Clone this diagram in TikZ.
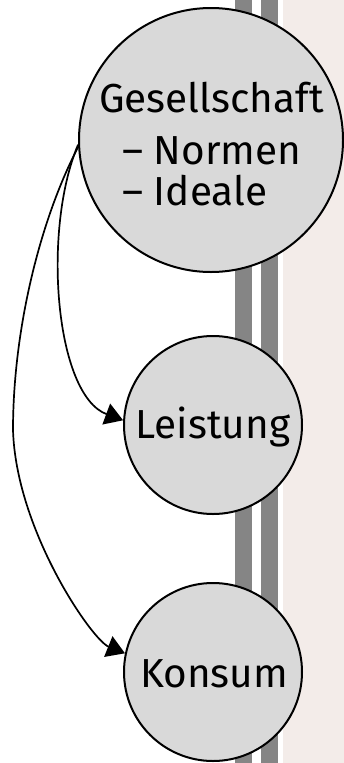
\documentclass[tikz,border=0pt]{standalone}
\usepackage{fontspec}
\setmainfont{Fira Sans}
\usetikzlibrary{arrows.meta}
\definecolor{nodefill}{HTML}{D9D9D9}
\definecolor{bargrey}{HTML}{858585}
\definecolor{paper}{HTML}{F3ECE9}
\tikzset{
  circ/.style={circle, draw=black, line width=2pt, fill=nodefill, inner sep=0pt},
  lbl/.style={inner sep=0pt, font=\fontsize{40.5}{42}\selectfont},
  edge/.style={line width=1.7pt, -{Triangle[length=18pt, width=22pt]}},
}
\begin{document}
\begin{tikzpicture}[x=1pt, y=-1pt]
  \useasboundingbox (0,0) rectangle (344,763);
  % background: white page, two grey bars and the paper strip
  \fill[white] (0,0) rectangle (344,763);
  \fill[bargrey] (235,0) rectangle (252,763);
  \fill[bargrey] (261,0) rectangle (278,763);
  \fill[paper] (283,0) rectangle (344,763);

  % nodes
  \node[circ, minimum size=264pt] (g) at (211,140) {};
  \node[circ, minimum size=178pt] (l) at (213,425) {};
  \node[circ, minimum size=178pt] (k) at (213,672) {};

  % labels
  \node[lbl, anchor=base] (gt1) at (211.5,112) {Gesellschaft};
  \node[lbl, anchor=base west] (gt2) at (122,164) {– Normen};
  \node[lbl, anchor=base west] (gt3) at (122,205) {– Ideale};
  \node[lbl, anchor=base] (lt) at (213,438) {Leistung};
  \node[lbl, anchor=base] (kt) at (214,687) {Konsum};

  % connectors
  \draw[edge] (g.182) .. controls (42,230) and (55,395) .. (l.177);
  \draw[line width=1.7pt] (g.183) .. controls (40,220) and (13,330) .. (13,430)
    coordinate (bend);
  \draw[edge] (bend) .. controls (16,530) and (92,640) .. (k.168);
\end{tikzpicture}
\end{document}
